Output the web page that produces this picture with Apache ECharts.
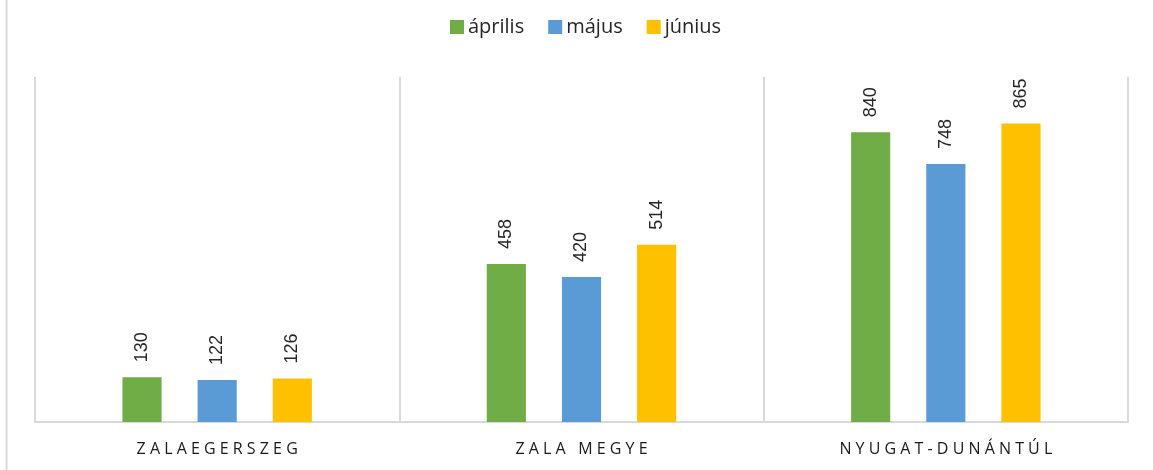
<!DOCTYPE html>
<html>
<head>
<meta charset="utf-8">
<script src="https://cdn.jsdelivr.net/npm/echarts@6/dist/echarts.min.js"></script>
<style>
html,body{margin:0;padding:0;background:#fff;}
#chart{width:1153px;height:470px;}
</style>
</head>
<body>
<div id="chart"></div>
<script>
const categories = ['ZALAEGERSZEG', 'ZALA MEGYE', 'NYUGAT-DUNÁNTÚL'];
const seriesNames = ['április', 'május', 'június'];
const aprilis = [130, 458, 840];
const majus = [122, 420, 748];
const junius = [126, 514, 865];
const colors = ['#70AD47', '#5B9BD5', '#FFC000'];

const chart = echarts.init(document.getElementById('chart'));
const values = [aprilis, majus, junius];
const spaced = s => s.split('').join(' ');

chart.setOption({
  animation: false,
  color: colors,
  legend: {
    top: 17,
    left: 450,
    itemWidth: 14,
    itemHeight: 14,
    itemGap: 24,
    padding: 0,
    icon: 'rect',
    textStyle: { fontFamily: 'Open Sans', fontSize: 20, color: '#262626', padding: [0, 0, 0, -1] },
    data: seriesNames
  },
  graphic: [{
    type: 'line',
    shape: { x1: 6.5, y1: 0, x2: 6.5, y2: 470 },
    style: { stroke: '#d9d9d9', lineWidth: 2 }
  }],
  grid: { left: 35, right: 25, top: 77, bottom: 48 },
  xAxis: {
    type: 'category',
    data: categories,
    axisLine: { show: true, lineStyle: { color: '#d9d9d9', width: 2 } },
    axisTick: { show: false },
    splitLine: { show: true, lineStyle: { color: '#d9d9d9', width: 2 } },
    axisLabel: {
      formatter: v => spaced(v),
      fontFamily: 'Open Sans',
      fontSize: 16,
      color: '#1a1a1a',
      margin: 19
    }
  },
  yAxis: {
    type: 'value',
    min: 0,
    max: 1000,
    show: false,
    splitLine: { show: false }
  },
  series: seriesNames.map((name, i) => ({
    name: name,
    type: 'bar',
    data: values[i],
    barGap: '92%',
    barCategoryGap: '48%',
    label: {
      show: true,
      position: 'top',
      rotate: 90,
      align: 'left',
      verticalAlign: 'middle',
      distance: 15,
      fontFamily: 'Liberation Sans',
      fontSize: 18,
      color: '#262626'
    }
  }))
});
</script>
</body>
</html>
